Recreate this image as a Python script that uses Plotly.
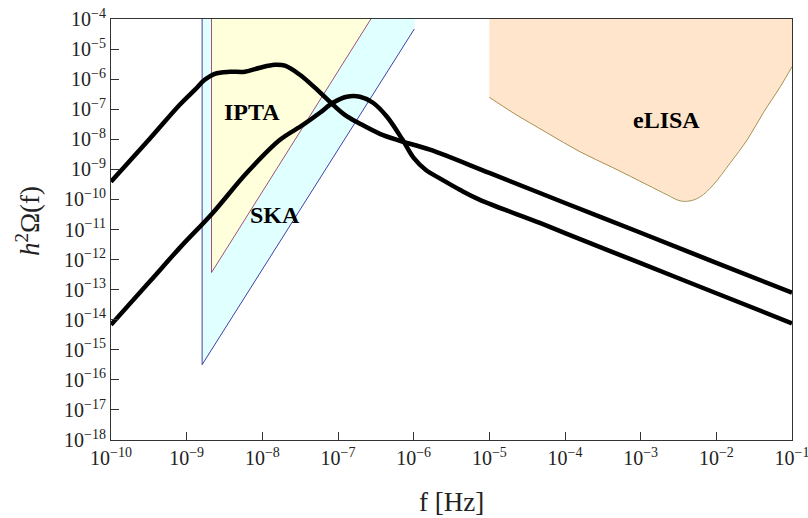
import math
import plotly.graph_objects as go

# ---------------- data ----------------
curve1_f = [1.0e-10, 3.25e-10, 8.1e-10, 1.28e-9, 1.73e-9, 2.35e-9, 3.7e-9, 5.9e-9, 9.3e-9,
            1.46e-8, 1.99e-8, 3.13e-8, 4.95e-8, 7.8e-8, 1.23e-7, 1.95e-7, 3.58e-7, 6.6e-7,
            1.64e-6, 1e-5, 1e-4, 1e-3, 1e-2, 1e-1]
curve1_omega = [3.9e-10, 1.04e-8, 1.41e-7, 4.4e-7, 9.5e-7, 1.51e-6, 1.76e-6, 1.76e-6, 2.4e-6,
                3.0e-6, 2.8e-6, 1.4e-6, 5.2e-7, 1.77e-7, 6.5e-8, 3.3e-8, 1.52e-8, 8.9e-9,
                4.5e-9, 7.6e-10, 7.6e-11, 7.8e-12, 7.8e-13, 7.9e-14]

curve2_f = [1.0e-10, 3.25e-10, 8.1e-10, 2.21e-9, 6.24e-9, 1.71e-8, 3.44e-8, 5.77e-8, 8.57e-8,
            1.31e-7, 1.95e-7, 2.90e-7, 4.44e-7, 7.14e-7, 1.0e-6, 1.45e-6, 2.22e-6, 4.07e-6,
            7.5e-6, 4.65e-5, 1e-4, 1e-3, 1e-2, 1e-1]
curve2_omega = [6.8e-15, 1.86e-13, 2.45e-12, 3.55e-11, 7.7e-10, 9.6e-9, 3.0e-8, 7.6e-8, 1.64e-7,
                2.6e-7, 2.6e-7, 1.64e-7, 5.6e-8, 9.6e-9, 2.4e-9, 9.5e-10, 5.0e-10, 2.1e-10,
                9.7e-11, 1.66e-11, 7.6e-12, 7.6e-13, 7.6e-14, 7.6e-15]

ska_f = [1.6e-9, 1.6e-9, 1.02e-6, 1.04e-6]
ska_omega = [1e-4, 3.2e-16, 4.65e-5, 1e-4]

ipta_f = [2.13e-9, 2.13e-9, 2.72e-7]
ipta_omega = [1e-4, 3.7e-13, 1e-4]

elisa_f = [1e-5, 2.06e-5, 5.8e-5, 1.58e-4, 4.33e-4, 1.22e-3, 2.24e-3, 3.33e-3, 4.51e-3,
           6.12e-3, 9.1e-3, 1.53e-2, 2.56e-2, 4.17e-2, 7.0e-2, 1.0e-1]
elisa_omega = [2.5e-7, 7.6e-8, 1.64e-8, 3.84e-9, 1.13e-9, 3.06e-10, 1.42e-10, 8.97e-11, 8.97e-11,
               1.22e-10, 3.06e-10, 1.65e-9, 9.6e-9, 7.6e-8, 5.6e-7, 2.6e-6]
elisa_top = 1e-4

labels = ["IPTA", "SKA", "eLISA"]
label_f = [7.3e-9, 1.46e-8, 2.18e-3]
label_omega = [8.2e-8, 3.1e-11, 4.5e-8]

x_exponents = list(range(-10, 0))
y_exponents = list(range(-18, -3))

# ---------------- figure ----------------
SERIF = "Liberation Serif, Times New Roman, serif"
fig = go.Figure()

# SKA region (fill) and its edges
fig.add_trace(go.Scatter(x=ska_f, y=ska_omega, fill="toself", fillcolor="#E0FFFF",
                         mode="lines", line=dict(width=0), hoverinfo="skip", showlegend=False))
fig.add_trace(go.Scatter(x=ska_f[:3], y=ska_omega[:3], mode="lines",
                         line=dict(color="#4040A8", width=1), hoverinfo="skip", showlegend=False))

# IPTA region
fig.add_trace(go.Scatter(x=ipta_f, y=ipta_omega, fill="toself", fillcolor="#FFFFDC",
                         mode="lines", line=dict(width=0), hoverinfo="skip", showlegend=False))
fig.add_trace(go.Scatter(x=ipta_f, y=ipta_omega, mode="lines",
                         line=dict(color="#A0507A", width=1), hoverinfo="skip", showlegend=False))

# eLISA region
fig.add_trace(go.Scatter(x=elisa_f + [elisa_f[-1], elisa_f[0]],
                         y=elisa_omega + [elisa_top, elisa_top],
                         fill="toself", fillcolor="#FFE5CC", mode="lines", line=dict(width=0),
                         hoverinfo="skip", showlegend=False))
fig.add_trace(go.Scatter(x=elisa_f, y=elisa_omega, mode="lines", line_shape="spline",
                         line=dict(color="#A89050", width=1), hoverinfo="skip", showlegend=False))

# spectra
fig.add_trace(go.Scatter(x=curve1_f, y=curve1_omega, mode="lines", line_shape="spline",
                         line=dict(color="black", width=4.5), showlegend=False))
fig.add_trace(go.Scatter(x=curve2_f, y=curve2_omega, mode="lines", line_shape="spline",
                         line=dict(color="black", width=4.5), showlegend=False))

# region labels (annotations on log axes take log10 coordinates)
for t, xf, yo in zip(labels, label_f, label_omega):
    fig.add_annotation(x=math.log10(xf), y=math.log10(yo), xref="x", yref="y",
                       text="<b>%s</b>" % t, showarrow=False,
                       font=dict(family=SERIF, size=24, color="black"))

fig.add_annotation(x=0.5, y=-0.148, xref="paper", yref="paper", text="f [Hz]",
                   showarrow=False, yanchor="middle", font=dict(family=SERIF, size=27, color="#222"))
fig.add_annotation(x=-0.122, y=0.52, xref="paper", yref="paper",
                   text="<i>h</i><sup>2</sup>Ω(f)", textangle=-90, showarrow=False,
                   xanchor="center", yanchor="middle",
                   font=dict(family=SERIF, size=27, color="#222"))

axis_common = dict(showgrid=False, zeroline=False, showline=True, mirror=True,
                   linecolor="#333", linewidth=1, ticks="inside", ticklen=8,
                   tickcolor="#333", automargin=False, ticklabeloverflow="allow",
                   tickfont=dict(family=SERIF, size=20, color="#222"))

fig.update_xaxes(type="log", range=[-10, -1],
                 tickvals=[10.0 ** e for e in x_exponents] + [0.1],
                 ticktext=["10<sup>−%d</sup>" % (-e) for e in x_exponents] + ["10<sup>−1</sup>"],
                 **axis_common)
fig.update_yaxes(type="log", range=[-18, -4],
                 tickvals=[10.0 ** e for e in y_exponents],
                 ticktext=["10<sup>−%d</sup>" % (-e) for e in y_exponents],
                 **axis_common)

fig.update_layout(width=808, height=518, plot_bgcolor="white", paper_bgcolor="white",
                  margin=dict(l=111, r=16, t=19, b=78), font=dict(family=SERIF))

fig.write_html("out.html", config={"displayModeBar": False},
               post_script="document.body.style.margin='0';document.body.style.overflow='hidden';")
